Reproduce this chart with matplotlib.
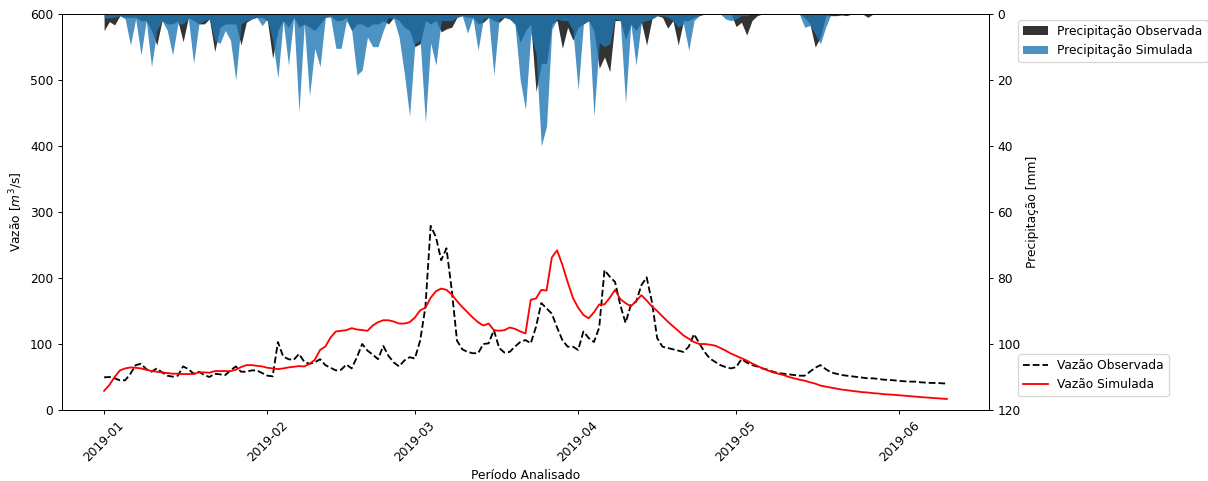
import numpy as np
import pandas as pd
import matplotlib
matplotlib.use("Agg")
import matplotlib.pyplot as plt
import matplotlib.dates as mdates

# --- data (daily from 2019-01-01) ---
dates = pd.date_range("2019-01-01", periods=161, freq="D")

vazao_obs = [
    49.5, 50, 48, 45, 45, 55, 68, 70, 62, 58,
    63, 57, 52, 50.5, 52, 66, 62, 55, 58, 53,
    50, 55, 54, 53, 60, 66, 58, 58, 60, 60,
    56, 52, 51, 103, 81, 77, 76, 85, 73, 70,
    72, 77, 68, 64, 60, 61, 69, 63, 80, 100,
    90, 84, 77, 97, 82, 72, 66, 75, 80, 78,
    105, 156, 279, 262, 227, 245, 182, 105, 92, 88,
    86, 86, 100, 101, 121, 94, 87, 88, 96, 103,
    106, 101, 126, 162, 154, 146, 125, 106, 96, 96,
    91, 119, 109, 103, 125, 212, 202, 194, 159, 132,
    159, 164, 189, 201, 164, 109, 96, 94, 92, 90,
    88, 96, 115, 101, 88, 78, 73, 68, 65, 63,
    65, 77, 72, 68, 66, 63, 61, 58, 56, 55,
    54, 53, 52, 52, 58, 64, 68, 62, 57, 55,
    53, 52, 51, 50, 49, 48, 48, 47, 46, 45.5,
    45, 44, 43.5, 43, 43, 42, 41.5, 41, 41, 40.5,
    40,
]

vazao_sim = [
    29, 38, 50, 60, 63, 64.5, 64, 63, 61, 59,
    58, 57, 56, 55, 55, 54.5, 54.5, 54.5, 57, 57,
    56.5, 59, 59, 59, 59, 61, 65, 68, 68, 67,
    66, 64, 63, 62, 63, 64.5, 65.5, 66.5, 66, 70,
    76, 91, 96, 110, 119, 120, 121, 124, 122, 121,
    120, 128, 133, 136, 136, 134, 131, 131, 133, 140,
    151, 155, 170, 180, 184, 182, 175, 165, 156, 148,
    140, 133, 128, 131, 121, 120, 121, 125, 123, 119,
    116, 167, 169, 182, 181, 231, 242, 220, 194, 170,
    155, 144, 139, 148, 160, 160, 170, 182, 168, 162,
    157, 165, 174, 166, 157, 150, 142, 134, 127, 120,
    113, 108, 103, 100, 100, 99, 97.5, 94, 90, 85.5,
    82, 78.5, 75, 70.5, 67, 63, 60, 57, 55, 53,
    50, 48, 46, 44.4, 42, 40, 37, 35.4, 34, 32.5,
    31, 30, 29, 28, 27, 26.5, 25.5, 25, 24, 23.5,
    23, 22.3, 21.6, 21, 20.3, 19.6, 19, 18.4, 17.8, 17.2,
    16.7,
]

precip_obs = [
    5, 2.3, 3.3, 0.5, 1, 1, 1, 2, 2, 5,
    9.4, 2, 3, 3, 2, 8.4, 1, 2, 3, 3,
    1.5, 11.4, 4, 3, 3, 3, 9.4, 2.5, 1.5, 1,
    1, 2, 13.4, 5, 2, 4, 1, 4, 3, 4,
    5, 3, 1, 0.5, 2, 2, 1, 5, 3, 3,
    4, 3, 3, 2, 3, 1, 2, 4, 5, 9.9,
    9, 2, 3, 2, 5.4, 4.5, 4, 1, 0.5, 1,
    1, 3, 2.5, 1, 2, 2.5, 1, 1.5, 3, 8.6,
    5, 3, 23.5, 15, 15, 3, 2, 10.4, 4, 7.9,
    4, 3, 2, 5, 16.5, 13, 17.5, 2, 2, 7.7,
    3, 5, 2.5, 9.4, 1.5, 0.5, 1, 4.3, 2, 9.4,
    2, 2, 1, 0.5, 0, 0, 0, 0, 0, 0,
    3.8, 2.5, 6.4, 2, 0.5, 0, 0, 0, 0, 0,
    0, 0, 0, 1, 3, 10, 7, 0.5, 0.5, 0.5,
    0.3, 0.5, 0, 0, 0, 1, 0, 0, 0, 0,
    0, 0, 0, 0, 0, 0, 0, 0, 0, 0,
    0,
]

precip_sim = [
    1.2, 1.2, 1, 0.5, 1.5, 9.4, 1.5, 12.4, 2, 16,
    5, 2, 5, 12.4, 3, 3, 1.5, 14.9, 3, 2,
    1.5, 8, 8.9, 5, 8, 20, 3, 2, 1.5, 1,
    3.5, 1.5, 8, 19.4, 2, 15.5, 1, 29.6, 3, 24.8,
    10.4, 16, 1, 1, 10.4, 10.4, 2, 5, 18.5, 17,
    7, 9.9, 9.9, 5, 1, 1.5, 7, 18, 31, 9,
    8, 33, 8.8, 15.5, 2, 2, 2, 1, 0.5, 5.8,
    1, 11, 1.5, 1, 18.5, 1.5, 1, 1.5, 3, 20,
    29, 6, 12, 40, 34, 4.6, 1.5, 2, 2, 5,
    23, 3, 2, 31, 8.7, 9.9, 9, 1.5, 2, 27,
    3, 15.5, 2.5, 2, 1.5, 0.5, 0.5, 1, 2, 4,
    3, 11, 2, 0.5, 0, 0, 0, 0, 1.5, 2,
    1.5, 0.5, 0.5, 0, 0, 0, 0, 0, 0, 0,
    0, 0, 0, 4, 3.5, 6, 9, 4, 0, 0,
    0, 0, 0, 0, 0, 0, 0, 0, 0, 0,
    0, 0, 0, 0, 0, 0, 0, 0, 0, 0,
    0,
]

# --- plot ---
# the reference looks like a bigger figure scaled down, so draw at a lower dpi
DPI = 88
fig, ax1 = plt.subplots(figsize=(1208 / DPI, 481 / DPI), dpi=DPI)
fig.subplots_adjust(left=0.0513, right=0.8187, top=0.9709, bottom=0.1476)

ax1.plot(dates, vazao_obs, color="black", linestyle="--", label="Vazão Observada")
ax1.plot(dates, vazao_sim, color="red", label="Vazão Simulada")
ax1.set_ylim(0, 600)
ax1.set_ylabel("Vazão [$m^3$/s]")
ax1.set_xlabel("Período Analisado")
ax1.xaxis.set_major_locator(mdates.MonthLocator())
ax1.xaxis.set_major_formatter(mdates.DateFormatter("%Y-%m"))
plt.setp(ax1.get_xticklabels(), rotation=45)

ax2 = ax1.twinx()
ax2.fill_between(dates, 0, precip_obs, color="black", alpha=0.8,
                 linewidth=0, label="Precipitação Observada")
ax2.fill_between(dates, 0, precip_sim, color="tab:blue", alpha=0.8,
                 linewidth=0, label="Precipitação Simulada")
ax2.set_ylim(120, 0)
ax2.set_ylabel("Precipitação [mm]")

ax2.legend(loc="upper left", bbox_to_anchor=(1.025, 1.0))
ax1.legend(loc="lower left", bbox_to_anchor=(1.025, 0.02))

fig.savefig("out.png", dpi=DPI)
